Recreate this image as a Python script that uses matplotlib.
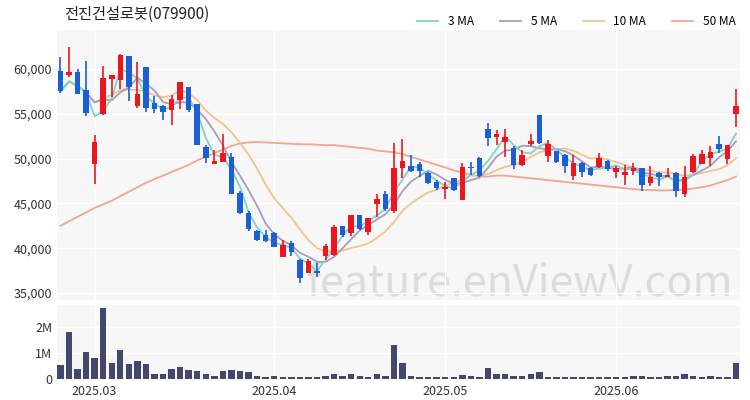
import matplotlib
matplotlib.use("Agg")
import matplotlib.pyplot as plt
import numpy as np
import pandas as pd

plt.rcParams['font.family'] = ['Noto Sans CJK KR', 'DejaVu Sans']

title = "전진건설로봇(079900)"
opens = [59800,59300,59700,57700,49400,55000,58900,58800,61400,55900,60200,56200,55900,55400,56500,57950,56100,51300,49400,49650,
         50200,46200,43900,41900,41500,41650,39050,40550,38700,37250,37450,39150,39250,42500,41650,43700,41850,44950,46050,44100,
         49000,49150,49400,48350,47400,46600,47800,45400,49100,50100,53350,52450,51800,51150,49300,51650,54850,50300,50850,50400,
         48050,49550,48900,49100,49750,48550,48150,48650,48900,47250,48350,48000,48350,46100,48450,49450,50050,51600,49900,55000]
highs = [61300,62500,60000,60900,52600,60300,59300,61700,61500,60800,60200,57000,56000,57100,58600,57950,56100,51500,51000,52750,
         50600,46400,44100,42000,42000,41850,40900,40750,38850,38850,38300,40450,42600,42500,43700,43700,43350,46100,46400,51700,
         52150,50400,49650,48450,47600,47400,47850,49550,49650,50150,53950,53200,53250,51350,50950,52750,54850,52100,50850,50500,
         50400,49650,49050,50600,49850,49150,49300,49550,48900,49150,48450,49000,48450,49150,50500,50950,51350,52500,51500,57750]
lows = [57300,59100,57200,54700,47200,54900,56900,57800,56400,55700,55200,55100,54300,53750,55500,55200,51500,49500,49350,49650,
        46100,43800,41900,40850,40700,40100,39050,39150,36150,37200,36800,38700,39150,41300,41350,42050,41450,43500,44150,43900,
        47800,48450,48000,47150,46550,45450,46400,45400,48150,47900,51350,51500,50200,48800,49150,51350,51650,49650,49550,48350,
        47600,47900,48050,48900,48650,47800,47050,48150,46400,46950,46950,47900,45700,45700,48350,49400,49150,50600,49400,53500]
closes = [57500,59700,57200,55100,51900,59000,59300,61600,58000,57200,55700,55500,55200,56600,58500,55400,51500,50100,49700,50650,
          46100,43900,42100,40900,40750,40100,40350,39600,36650,38550,37250,40300,42400,41450,43650,42100,43350,45500,44350,48900,
          49750,48650,48650,47300,46700,46800,46500,49100,48900,48050,52250,52800,52450,49300,50400,52000,51700,51600,49650,49200,
          49550,48450,48150,50050,48800,48900,48550,49000,47050,48000,47900,48150,46400,48000,50300,50500,50750,51050,51500,55850]
volumes_m = [0.53,1.8,0.37,1.05,0.8,2.75,0.6,1.1,0.55,0.7,0.55,0.2,0.2,0.38,0.47,0.35,0.3,0.18,0.12,0.3,
             0.35,0.3,0.25,0.1,0.08,0.1,0.08,0.08,0.08,0.08,0.06,0.1,0.18,0.1,0.2,0.1,0.07,0.2,0.1,1.3,
             0.62,0.12,0.08,0.08,0.08,0.06,0.06,0.15,0.1,0.08,0.42,0.18,0.18,0.12,0.12,0.18,0.26,0.08,0.06,0.06,
             0.06,0.06,0.07,0.06,0.05,0.07,0.08,0.12,0.1,0.08,0.06,0.1,0.1,0.18,0.1,0.08,0.1,0.06,0.08,0.6]
ma50 = [42500,43000,43500,44000,44500,44900,45300,45800,46300,46800,47300,47700,48100,48500,48900,49300,49800,50200,50600,51000,
        51400,51700,51800,51850,51800,51750,51700,51650,51600,51600,51550,51500,51500,51400,51300,51200,51100,50900,50800,50700,
        50500,50200,49900,49600,49300,49000,48700,48400,48200,48000,48000,48100,48100,48000,47900,47800,47700,47600,47500,47400,
        47300,47200,47100,47000,46900,46800,46700,46600,46500,46500,46450,46450,46500,46550,46650,46800,47000,47300,47600,48000]
tick_pos = [4, 25, 45, 65]
tick_labels = ["2025.03", "2025.04", "2025.05", "2025.06"]

x = np.arange(len(closes))
c = pd.Series(closes)
ma3 = c.rolling(3, min_periods=1).mean()
ma5 = c.rolling(5, min_periods=1).mean()
ma10 = c.rolling(10, min_periods=1).mean()

RED, BLUE = "#f0141e", "#1a5fd6"
fig = plt.figure(figsize=(7.5, 4), dpi=100)
ax = fig.add_axes([0.076, 0.25, 0.911, 0.675])
axv = fig.add_axes([0.076, 0.05, 0.911, 0.1875], sharex=ax)
for a in (ax, axv):
    a.set_facecolor("#f7f7f7")
    for s in a.spines.values():
        s.set_visible(False)
    a.grid(True, color="white", lw=1)
    a.tick_params(length=0, labelsize=9, colors="#333333")

ax.plot(x, ma50, color="#f4a48f", lw=1.3, label="50 MA", zorder=2)
ax.plot(x, ma10, color="#f5c28e", lw=1.3, label="10 MA", zorder=2)
ax.plot(x, ma5, color="#a99bbf", lw=1.3, label="5 MA", zorder=2)
ax.plot(x, ma3, color="#7fd3c7", lw=1.3, label="3 MA", zorder=2)
for i in x:
    col = RED if closes[i] >= opens[i] else BLUE
    ax.vlines(i, lows[i], highs[i], color=col, lw=1.2, zorder=3)
    lo, hi = min(opens[i], closes[i]), max(opens[i], closes[i])
    ax.bar(i, max(hi - lo, 80), bottom=lo, width=0.65, color=col, zorder=4)
ax.set_ylim(34220, 64350)
ax.set_yticks([35000, 40000, 45000, 50000, 55000, 60000])
ax.set_yticklabels([f"{v:,}" for v in [35000, 40000, 45000, 50000, 55000, 60000]])
ax.set_xlim(-0.4, 79.5)
plt.setp(ax.get_xticklabels(), visible=False)
h, l = ax.get_legend_handles_labels()
ax.legend(h[::-1], l[::-1], ncol=4, loc="lower right", bbox_to_anchor=(1.0, 0.99), frameon=False,
          fontsize=8.5, handlelength=1.8, columnspacing=2.2, borderaxespad=0)
ax.text(0.01, 1.025, title, transform=ax.transAxes, fontsize=11, ha="left", va="bottom", color="#222222")
ax.text(0.99, -0.02, "feature.enViewV.com", transform=ax.transAxes, fontsize=31, color="#dcdcdc",
        ha="right", va="bottom", zorder=1)

axv.bar(x, volumes_m, width=0.75, color="#45466b", zorder=3)
axv.set_ylim(-0.05, 2.85)
axv.set_yticks([0, 1, 2])
axv.set_yticklabels(["0", "1M", "2M"])
axv.set_xticks(tick_pos)
axv.set_xticklabels(tick_labels)
fig.savefig("out.png", dpi=100, facecolor="white")
